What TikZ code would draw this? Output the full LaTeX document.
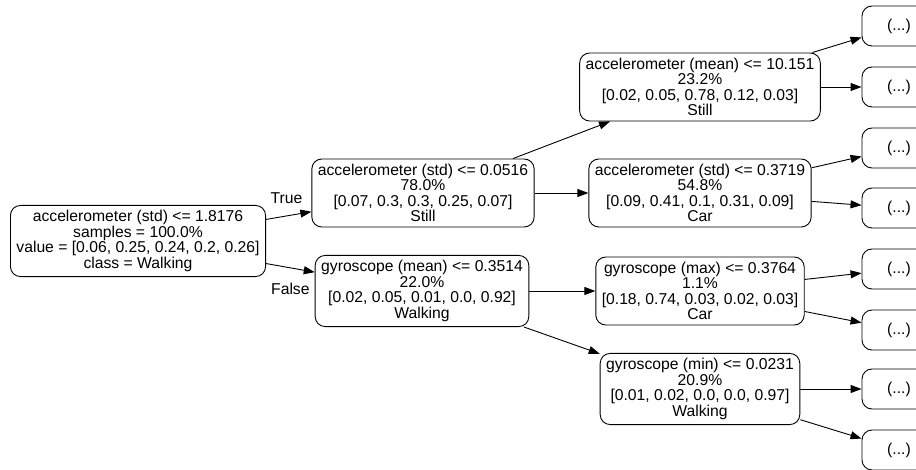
\documentclass[tikz,border=0pt]{standalone}
\usepackage{fontspec}
\setmainfont{Liberation Sans}
\usetikzlibrary{arrows.meta, positioning}

\begin{document}
\begin{tikzpicture}[>={Triangle[length=11pt,width=8pt]},line width=0.9pt,on grid,
	every node/.style={font=\fontsize{15.7}{15.5}\selectfont},
	split/.style={draw,rounded corners=10pt,align=center,inner xsep=6pt,inner ysep=5pt},
	leaf/.style={draw,rounded corners=10pt,minimum width=74pt,minimum height=40pt}]
	\useasboundingbox (0,0) rectangle (916pt,-470pt);
	
	\node[split] (R) at (138pt,-241pt) {accelerometer (std) <= 1.8176\\samples = 100.0\%\\value = [0.06, 0.25, 0.24, 0.2, 0.26]\\class = Walking};
	\node[split] (A1) [above right=48pt and 285pt of R] {accelerometer (std) <= 0.0516\\78.0\%\\{}[0.07, 0.3, 0.3, 0.25, 0.07]\\Still};
	\node[split] (G1) [below right=50pt and 284pt of R] {gyroscope (mean) <= 0.3514\\22.0\%\\{}[0.02, 0.05, 0.01, 0.0, 0.92]\\Walking};
	\node[split] (A2) [above right=106pt and 277pt of A1] {accelerometer (mean) <= 10.151\\23.2\%\\{}[0.02, 0.05, 0.78, 0.12, 0.03]\\Still};
	\node[split] (A3) [right=277pt of A1] {accelerometer (std) <= 0.3719\\54.8\%\\{}[0.09, 0.41, 0.1, 0.31, 0.09]\\Car};
	\node[split] (G2) [right=278pt of G1] {gyroscope (max) <= 0.3764\\1.1\%\\{}[0.18, 0.74, 0.03, 0.02, 0.03]\\Car};
	\node[split] (G3) [below right=98pt and 278pt of G1] {gyroscope (min) <= 0.0231\\20.9\%\\{}[0.01, 0.02, 0.0, 0.0, 0.97]\\Walking};
	
	\node[leaf] (L1) [above right=61pt and 199pt of A2] {(...)};
	\node[leaf] (L2) [right=199pt of A2] {(...)};
	\node[leaf] (L3) [above right=45pt and 199pt of A3] {(...)};
	\node[leaf] (L4) [below right=15pt and 199pt of A3] {(...)};
	\node[leaf] (L5) [above right=22pt and 199pt of G2] {(...)};
	\node[leaf] (L6) [below right=39pt and 199pt of G2] {(...)};
	\node[leaf] (L7) [right=199pt of G3] {(...)};
	\node[leaf] (L8) [below right=61pt and 199pt of G3] {(...)};
	
	\tikzset{branch/.style={->}}
	
	\path (R) edge [branch] node[pos=0.45,above=9pt] {True} (A1);
	\path (R) edge [branch] node[pos=0.5,below=11pt] {False} (G1);
	
	\path (A1) edge [branch] (A2);
	\path (A1) edge [branch] (A3);
	\path (G1) edge [branch] (G2);
	\path (G1) edge [branch] (G3);
	
	\path (A2) edge [branch] (L1);
	\path (A2) edge [branch] (L2);
	\path (A3) edge [branch] (L3);
	\path (A3) edge [branch] (L4);
	\path (G2) edge [branch] (L5);
	\path (G2) edge [branch] (L6);
	\path (G3) edge [branch] (L7);
	\path (G3) edge [branch] (L8);
\end{tikzpicture}
\end{document}
